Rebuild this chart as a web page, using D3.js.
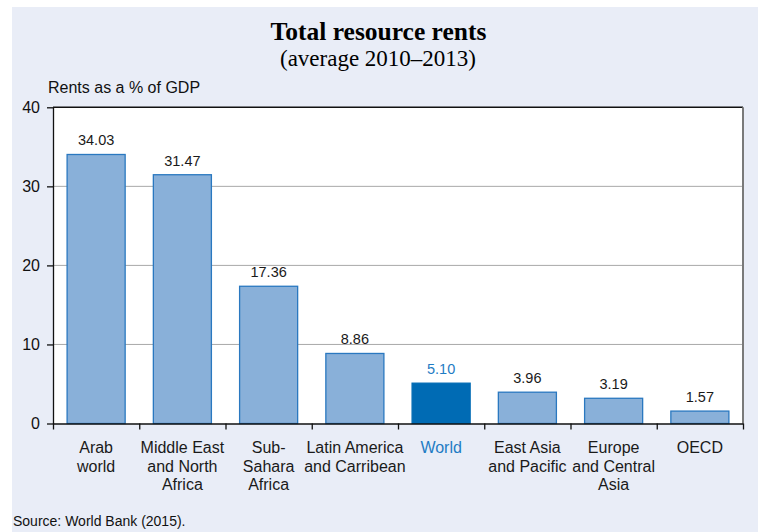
<!DOCTYPE html>
<html>

<head>
  <meta charset='utf-8'>
  <script type="text/javascript" src="https://cdn.jsdelivr.net/npm/d3@7"></script>
  <style>
    body { margin: 0; background: #fff; }
    text { font-family: Arial, "Liberation Sans", sans-serif; }
  </style>
</head>

<body>
</body>
<script>
  // data
  let categories = [
    ["Arab", "world"],
    ["Middle East", "and North", "Africa"],
    ["Sub-", "Sahara", "Africa"],
    ["Latin America", "and Carribean"],
    ["World"],
    ["East Asia", "and Pacific"],
    ["Europe", "and Central", "Asia"],
    ["OECD"]
  ]
  let values = [34.03, 31.47, 17.36, 8.86, 5.10, 3.96, 3.19, 1.57]
  let highlight = 4 // World
  let yTicks = [0, 10, 20, 30, 40]

  let w = 758
  let h = 532
  let plotL = 53, plotR = 743, plotT = 107.3, plotB = 423.5

  let svg = d3.select('body')
    .append('svg')
    .attr('width', w)
    .attr('height', h);

  // panel background
  svg.append("rect")
    .attr("x", 12).attr("y", 7)
    .attr("width", w - 12).attr("height", h - 7)
    .attr("fill", "#e9edf7")

  svg.append("text")
    .attr("x", 378.5).attr("y", 39.5)
    .attr("text-anchor", "middle")
    .style("font-family", "'Times New Roman', 'Liberation Serif', serif")
    .style("font-weight", "bold")
    .style("font-size", "25.5px")
    .text("Total resource rents")

  svg.append("text")
    .attr("x", 378).attr("y", 66)
    .attr("text-anchor", "middle")
    .style("font-family", "'Times New Roman', 'Liberation Serif', serif")
    .style("font-size", "23px")
    .text("(average 2010\u20132013)")

  svg.append("text")
    .attr("x", 48).attr("y", 93)
    .style("font-size", "16px")
    .attr("fill", "#111")
    .text("Rents as a % of GDP")

  let xScale = d3.scaleBand()
    .domain(d3.range(categories.length))
    .range([plotL, plotR])
    .paddingInner(0)

  let yScale = d3.scaleLinear()
    .domain([0, 40])
    .range([plotB, plotT])

  // plot area
  svg.append("rect")
    .attr("x", plotL).attr("y", plotT)
    .attr("width", plotR - plotL).attr("height", plotB - plotT)
    .attr("fill", "#fff")

  // grid
  svg.selectAll(".grid")
    .data([10, 20, 30])
    .enter()
    .append("line")
    .attr("x1", plotL).attr("x2", plotR)
    .attr("y1", d => yScale(d)).attr("y2", d => yScale(d))
    .attr("stroke", "#a8a8a8")
    .attr("stroke-width", 1)

  let bw = xScale.bandwidth()
  let barW = bw * 0.673

  svg.selectAll('.bar')
    .data(values)
    .enter()
    .append('rect')
    .attr("x", (d, i) => xScale(i) + (bw - barW) / 2)
    .attr("y", d => yScale(d))
    .attr("width", barW)
    .attr("height", d => plotB - yScale(d))
    .attr("fill", (d, i) => i == highlight ? "#006bb4" : "#89b0d9")
    .attr("stroke", (d, i) => i == highlight ? "#006bb4" : "#2a78c0")
    .attr("stroke-width", 1.3)

  svg.selectAll('.val')
    .data(values)
    .enter()
    .append('text')
    .attr("x", (d, i) => xScale(i) + bw / 2)
    .attr("y", d => yScale(d) - 9)
    .attr("text-anchor", "middle")
    .style("font-size", "14.5px")
    .attr("fill", (d, i) => i == highlight ? "#1f7cc4" : "#1a1a1a")
    .text(d => d.toFixed(2))

  // top and right border
  svg.append("line")
    .attr("x1", plotL).attr("x2", plotR)
    .attr("y1", plotT).attr("y2", plotT)
    .attr("stroke", "#111").attr("stroke-width", 1.5)
  svg.append("line")
    .attr("x1", plotR).attr("x2", plotR)
    .attr("y1", plotT).attr("y2", plotB)
    .attr("stroke", "#7a7a7a").attr("stroke-width", 2)

  //axis
  let yAxis = d3.axisLeft(yScale)
    .tickValues(yTicks)
    .tickSize(6)
    .tickSizeOuter(0)
  let gy = svg.append("g")
    .attr("transform", "translate(" + plotL + ",0)")
    .call(yAxis)
  gy.selectAll("text")
    .style("font-size", "16px")
    .style("font-family", "Arial, 'Liberation Sans', sans-serif")
    .attr("fill", "#111")
    .attr("x", -13)
  gy.selectAll("line, path").attr("stroke", "#111").attr("stroke-width", 1.3)

  let edge = d3.scaleLinear().domain([0, categories.length]).range([plotL, plotR])
  let xAxis = d3.axisBottom(edge)
    .tickValues(d3.range(categories.length + 1))
    .tickFormat("")
    .tickSize(6)
    .tickSizeOuter(0)
  let gx = svg.append("g")
    .attr("transform", "translate(0, " + plotB + ")")
    .call(xAxis)
  gx.selectAll("line, path").attr("stroke", "#111").attr("stroke-width", 1.3)

  // category labels
  let cat = svg.selectAll(".cat")
    .data(categories)
    .enter()
    .append("text")
    .attr("text-anchor", "middle")
    .style("font-size", "16px")
    .attr("fill", (d, i) => i == highlight ? "#1f7cc4" : "#1a1a1a")
  cat.each(function (d, i) {
    d3.select(this).selectAll("tspan")
      .data(d)
      .enter()
      .append("tspan")
      .attr("x", xScale(i) + bw / 2)
      .attr("y", (t, j) => 453 + j * 18.7)
      .text(t => t)
  })

  svg.append("text")
    .attr("x", 13).attr("y", 525.5)
    .style("font-size", "14px")
    .attr("fill", "#111")
    .text("Source: World Bank (2015).")
</script>

</html>
